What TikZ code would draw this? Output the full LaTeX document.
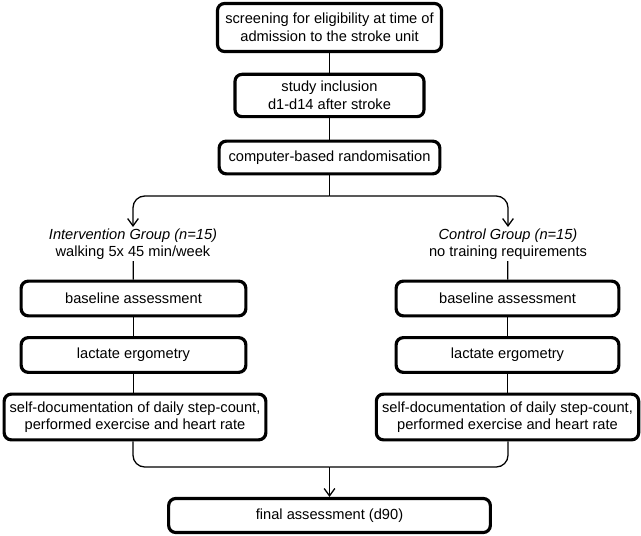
\documentclass[tikz,border=0pt]{standalone}
\usepackage{fontspec}
\setmainfont{Liberation Sans}
\usetikzlibrary{positioning, arrows.meta, calc}
\tikzset{
  stagebox/.style={
    rectangle,
    draw=black,
    rounded corners=6pt,
    line width=2.7pt,
    align=center,
    font=\fontsize{12.5}{15}\selectfont,
    inner sep=0pt
  },
  armlabel/.style={
    align=center,
    font=\fontsize{12.5}{15}\selectfont,
    inner sep=1pt
  },
  flowline/.style={
    line width=1.1pt,
    rounded corners=10pt
  },
  flowarrow/.style={
    flowline,
    -{Straight Barb[length=2.2mm,width=3.2mm,line width=1.1pt]}
  }
}
\begin{document}
\begin{tikzpicture}[x=0.03cm, y=-0.03cm]
  \useasboundingbox (0,0) rectangle (641,536);

  % common path
  \node[stagebox, minimum width=6.72cm, minimum height=1.44cm] (screen) at (329.5,27.5)
    {screening for eligibility at time of\\admission to the stroke unit};
  \node[stagebox, minimum width=5.67cm, minimum height=1.27cm] (incl) at (329.5,95.5)
    {study inclusion\\d1-d14 after stroke};
  \node[stagebox, minimum width=6.62cm, minimum height=0.98cm] (rand) at (329.5,157.5)
    {computer-based randomisation};
  \coordinate (split) at (rand.south |- 0,196);

  % intervention arm
  \node[armlabel] (igroup) at (133,244)
    {\textit{Intervention Group (n=15)}\\walking 5x 45 min/week};
  \node[stagebox, minimum width=6.74cm, minimum height=1.04cm] (ibase) at (133.5,298.5)
    {baseline assessment};
  \node[stagebox, minimum width=6.74cm, minimum height=1.04cm] (ilact) at (133.5,355)
    {lactate ergometry};
  \node[stagebox, minimum width=7.85cm, minimum height=1.37cm] (idoc) at (135,417)
    {self-documentation of daily step-count,\\performed exercise and heart rate};

  % control arm
  \node[armlabel] (cgroup) at (508,244)
    {\textit{Control Group (n=15)}\\no training requirements};
  \node[stagebox, minimum width=6.68cm, minimum height=1.04cm] (cbase) at (507.5,298.5)
    {baseline assessment};
  \node[stagebox, minimum width=6.68cm, minimum height=1.04cm] (clact) at (507.5,355)
    {lactate ergometry};
  \node[stagebox, minimum width=7.87cm, minimum height=1.37cm] (cdoc) at (507.5,417)
    {self-documentation of daily step-count,\\performed exercise and heart rate};

  % follow-up
  \node[stagebox, minimum width=9.65cm, minimum height=1.02cm] (final) at (329.5,515.5)
    {final assessment (d90)};
  \coordinate (merge) at (final.north |- 0,467);

  \draw[flowline] (screen) -- (incl);
  \draw[flowline] (incl) -- (rand);
  \draw[flowline] (rand) -- (split);
  \draw[flowarrow] (split) -| (igroup.north);
  \draw[flowarrow] (split) -| (cgroup.north);
  \draw[flowline] (igroup) -- (ibase);
  \draw[flowline] (ibase) -- (ilact);
  \draw[flowline] (ilact) -- (idoc.north -| ilact);
  \draw[flowline] (cgroup) -- (cbase);
  \draw[flowline] (cbase) -- (clact);
  \draw[flowline] (clact) -- (cdoc);
  \draw[flowline] (idoc.south -| igroup) |- (merge);
  \draw[flowline] (cdoc.south -| cgroup) |- (merge);
  \draw[flowarrow] (merge) -- (final.north);
\end{tikzpicture}
\end{document}
